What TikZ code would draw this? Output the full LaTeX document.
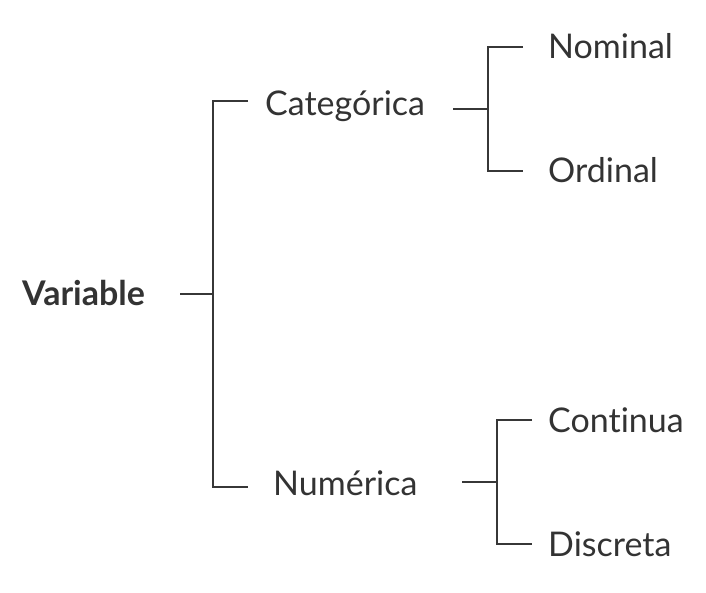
\documentclass[tikz,border=0pt]{standalone}
\usepackage{fontspec}
\setmainfont[Ligatures=NoCommon]{Lato}
\definecolor{InkGray}{RGB}{51, 51, 51}
\definecolor{LineGray}{RGB}{55, 55, 55}
\usetikzlibrary{positioning, calc}

\begin{document}
\begin{tikzpicture}[x=1pt, y=-1pt]
        % --- Styles ---
        \tikzstyle{term}=[anchor=base west, inner sep=0pt, text=InkGray, font=\fontsize{34}{40}\selectfont]
        \tikzstyle{branch}=[draw=LineGray, line width=2pt]

        \useasboundingbox (0,0) rectangle (706,592);

        % --- 1. Terms ---
        \node[term, font=\fontsize{34}{40}\selectfont\bfseries] (var) at (22,305) {Variable};
        \node[term] (cat) at (265,115) {Categórica};
        \node[term] (num) at (273,495) {Numérica};
        \node[term] (nom) at (548,58) {Nominal};
        \node[term] (ord) at (548,182) {Ordinal};
        \node[term] (con) at (548,432) {Continua};
        \node[term] (dis) at (548,556) {Discreta};

        % --- 2. Bracket joints ---
        \coordinate (var-out) at (180,294);
        \coordinate (var-mid) at (213,294);
        \coordinate (cat-in) at (248,101);
        \coordinate (num-in) at (248,487);

        \coordinate (cat-out) at (453,109);
        \coordinate (cat-mid) at (488,109);
        \coordinate (nom-in) at (523,47);
        \coordinate (ord-in) at (523,171);

        \coordinate (num-out) at (462,482);
        \coordinate (num-mid) at (497,482);
        \coordinate (con-in) at (532,420);
        \coordinate (dis-in) at (532,544);

        % --- 3. Brackets ---
        % Variable
        \draw[branch] (var-out) -- (var-mid);
        \draw[branch] (cat-in) -| (var-mid) |- (num-in);

        % Categórica
        \draw[branch] (cat-out) -- (cat-mid);
        \draw[branch] (nom-in) -| (cat-mid) |- (ord-in);

        % Numérica
        \draw[branch] (num-out) -- (num-mid);
        \draw[branch] (con-in) -| (num-mid) |- (dis-in);

    \end{tikzpicture}
\end{document}
